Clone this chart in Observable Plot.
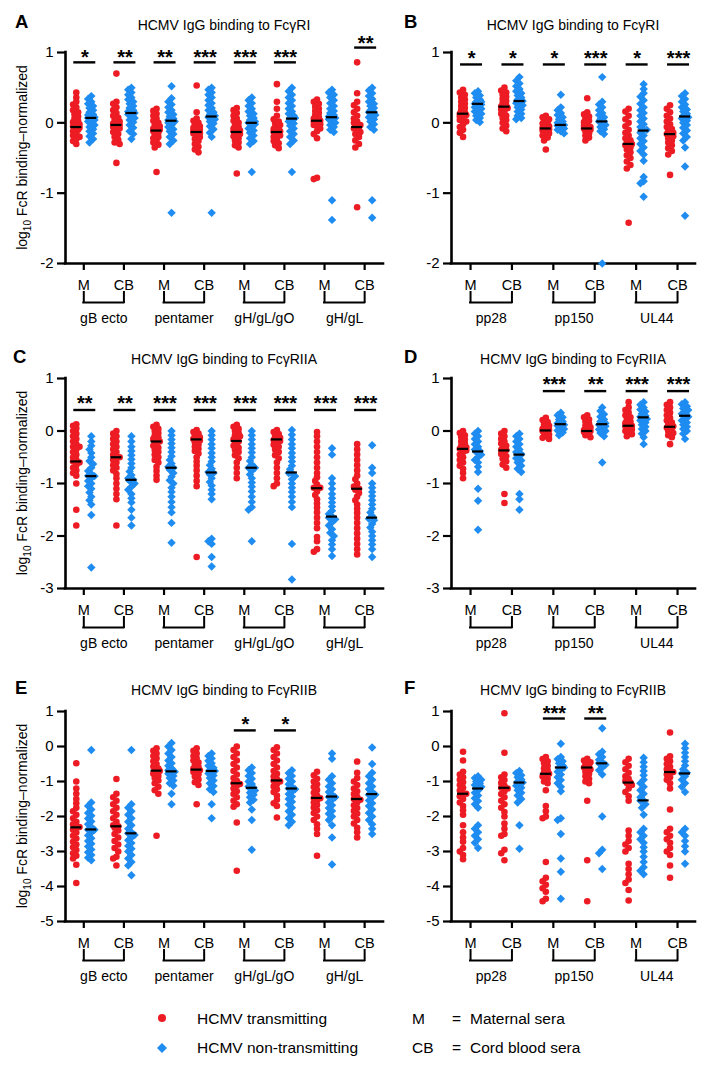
<!DOCTYPE html>
<html><head><meta charset="utf-8">
<script src="https://cdn.jsdelivr.net/npm/d3@7"></script>
<script src="https://cdn.jsdelivr.net/npm/@observablehq/plot@0.6"></script>
<style>
body{margin:0;background:#fff;}
#root{position:relative;width:722px;height:1078px;overflow:hidden;background:#fff;font-family:"Liberation Sans",Arial,sans-serif;}
#root > svg, #root > div{position:absolute;}
</style></head><body><div id="root"></div>
<script>
// ---------------- DATA ----------------
const antigensGlyco = ["gB ecto", "pentamer", "gH/gL/gO", "gH/gL"];
const antigensOther = ["pp28", "pp150", "UL44"];
const seraLabels = ["M", "CB"];
const yTicksRI = [-2, -1, 0, 1];
const yTicksRIIA = [-3, -2, -1, 0, 1];
const yTicksRIIB = [-5, -4, -3, -2, -1, 0, 1];
const panelTitles = ["HCMV IgG binding to FcγRI", "HCMV IgG binding to FcγRI", "HCMV IgG binding to FcγRIIA", "HCMV IgG binding to FcγRIIA", "HCMV IgG binding to FcγRIIB", "HCMV IgG binding to FcγRIIB"];

// Panel A (FcγRI, glycoproteins) columns: gB M, gB CB, pent M, pent CB, gHgLgO M, CB, gHgL M, CB
const aTransmitting = [
  [0.43,0.36,0.3,0.26,0.22,0.18,0.15,0.12,0.09,0.06,0.03,0.0,-0.02,-0.05,-0.07,-0.1,-0.12,-0.15,-0.18,-0.2,-0.23,-0.26,-0.3,-0.05,0.01,-0.09],
  [0.7,0.3,0.27,0.22,0.18,0.14,0.1,0.07,0.04,0.02,-0.01,-0.03,-0.05,-0.08,-0.1,-0.13,-0.16,-0.2,-0.24,-0.28,-0.3,-0.57,0.0,-0.06],
  [0.2,0.17,0.13,0.1,0.06,0.03,0.0,-0.03,-0.06,-0.08,-0.1,-0.12,-0.14,-0.17,-0.2,-0.22,-0.25,-0.28,-0.31,-0.35,-0.7,-0.1,-0.05],
  [0.53,0.15,0.06,0.03,0.0,-0.02,-0.05,-0.08,-0.1,-0.12,-0.14,-0.17,-0.2,-0.23,-0.26,-0.3,-0.34,-0.38,-0.42,-0.11,-0.15,-0.07],
  [0.21,0.18,0.14,0.1,0.06,0.03,0.0,-0.03,-0.06,-0.08,-0.1,-0.12,-0.14,-0.16,-0.19,-0.22,-0.25,-0.28,-0.32,-0.35,-0.72,-0.11],
  [0.55,0.3,0.2,0.1,0.05,0.02,0.0,-0.03,-0.06,-0.09,-0.11,-0.13,-0.15,-0.18,-0.2,-0.23,-0.26,-0.29,-0.32,-0.36,-0.12,-0.08],
  [0.33,0.3,0.27,0.23,0.2,0.17,0.14,0.11,0.08,0.06,0.04,0.02,0.0,-0.02,-0.05,-0.08,-0.12,-0.16,-0.22,-0.78,-0.8,0.03,-0.03],
  [0.86,0.42,0.3,0.25,0.2,0.15,0.1,0.06,0.02,0.0,-0.03,-0.05,-0.08,-0.1,-0.13,-0.16,-0.2,-0.25,-0.3,-0.35,-1.2,-0.06]
];
const aNonTransmitting = [
  [0.38,0.34,0.3,0.27,0.24,0.21,0.18,0.15,0.12,0.1,0.08,0.06,0.04,0.02,0.0,-0.03,-0.06,-0.09,-0.12,-0.15,-0.19,-0.23,-0.28,0.07,0.11],
  [0.5,0.47,0.43,0.4,0.36,0.33,0.3,0.27,0.24,0.21,0.18,0.16,0.14,0.12,0.1,0.07,0.04,0.01,-0.03,-0.07,-0.12,-0.16,-0.23,0.15],
  [0.52,0.35,0.3,0.26,0.22,0.18,0.15,0.12,0.09,0.06,0.04,0.02,0.0,-0.03,-0.06,-0.09,-0.12,-0.16,-0.2,-0.25,-0.3,-1.28,0.03],
  [0.5,0.47,0.43,0.4,0.36,0.32,0.28,0.25,0.21,0.18,0.15,0.12,0.1,0.08,0.05,0.02,-0.01,-0.05,-0.09,-0.14,-0.2,-1.28,0.08],
  [0.36,0.32,0.28,0.24,0.2,0.16,0.13,0.1,0.07,0.04,0.02,0.0,-0.02,-0.05,-0.08,-0.11,-0.14,-0.18,-0.22,-0.26,-0.3,-0.7,0.01],
  [0.5,0.45,0.4,0.36,0.32,0.28,0.24,0.2,0.16,0.13,0.1,0.07,0.05,0.02,-0.01,-0.04,-0.08,-0.12,-0.16,-0.2,-0.25,-0.3,-0.7,0.07],
  [0.47,0.43,0.4,0.36,0.32,0.28,0.24,0.2,0.17,0.14,0.11,0.09,0.07,0.05,0.03,0.0,-0.03,-0.06,-0.1,-0.13,-1.1,-1.38,0.08],
  [0.5,0.46,0.42,0.38,0.34,0.3,0.27,0.24,0.21,0.18,0.15,0.13,0.11,0.08,0.05,0.02,-0.02,-0.06,-0.1,-1.1,-1.35,0.15]
];
const aMedianT = [-0.06, -0.03, -0.11, -0.13, -0.13, -0.13, 0.03, -0.06];
const aMedianN = [0.07, 0.14, 0.03, 0.09, 0.0, 0.06, 0.08, 0.15];
const aStars = ["*", "**", "**", "***", "***", "***", "", "**"];
const aBarY = [0.86, 0.86, 0.86, 0.86, 0.86, 0.86, 0, 1.07];
const aStarY = [1.0, 1.0, 1.0, 1.0, 1.0, 1.0, 0, 1.2];

// Panel B (FcγRI, pp28 / pp150 / UL44)
const bTransmitting = [
  [0.47,0.43,0.4,0.36,0.33,0.3,0.27,0.24,0.21,0.18,0.15,0.13,0.11,0.09,0.06,0.04,0.02,-0.02,-0.06,-0.1,-0.14,-0.2,0.12],
  [0.5,0.46,0.43,0.4,0.37,0.34,0.31,0.28,0.25,0.23,0.21,0.19,0.16,0.13,0.1,0.07,0.04,0.0,-0.04,-0.08,-0.12,0.22],
  [0.1,0.08,0.05,0.03,0.01,-0.01,-0.03,-0.05,-0.07,-0.09,-0.11,-0.13,-0.15,-0.18,-0.21,-0.25,-0.38,-0.08],
  [0.35,0.15,0.12,0.09,0.06,0.03,0.01,-0.02,-0.04,-0.06,-0.08,-0.1,-0.12,-0.15,-0.18,-0.21,-0.25,-0.08],
  [0.2,0.16,0.1,0.05,0.0,-0.05,-0.1,-0.14,-0.18,-0.22,-0.25,-0.28,-0.3,-0.32,-0.35,-0.38,-0.42,-0.46,-0.5,-0.55,-0.6,-0.65,-1.42,-0.3],
  [0.25,0.2,0.15,0.1,0.06,0.02,-0.02,-0.06,-0.09,-0.12,-0.14,-0.16,-0.19,-0.22,-0.25,-0.28,-0.32,-0.36,-0.4,-0.45,-0.74,-0.15]
];
const bNonTransmitting = [
  [0.45,0.42,0.39,0.36,0.33,0.3,0.28,0.26,0.24,0.22,0.2,0.18,0.16,0.13,0.1,0.07,0.04,0.01,0.27,0.3],
  [0.65,0.6,0.56,0.52,0.48,0.45,0.42,0.39,0.36,0.33,0.3,0.28,0.25,0.22,0.19,0.16,0.13,0.1,0.07,0.05,0.31],
  [0.4,0.22,0.18,0.14,0.11,0.08,0.05,0.02,0.0,-0.02,-0.04,-0.06,-0.08,-0.1,-0.12,-0.15,-0.03],
  [0.65,0.3,0.26,0.22,0.18,0.14,0.11,0.08,0.05,0.02,0.0,-0.03,-0.06,-0.09,-0.12,-0.16,-2.0,0.02],
  [0.55,0.48,0.42,0.37,0.32,0.27,0.22,0.18,0.14,0.1,0.06,0.02,-0.02,-0.06,-0.1,-0.14,-0.18,-0.22,-0.26,-0.3,-0.35,-0.4,-0.45,-0.54,-0.77,-0.83,-0.86,-1.05,-0.1],
  [0.42,0.38,0.34,0.3,0.26,0.22,0.19,0.16,0.13,0.1,0.08,0.06,0.03,0.0,-0.03,-0.07,-0.11,-0.15,-0.2,-0.25,-0.35,-0.62,-1.32,0.08]
];
const bMedianT = [0.13, 0.23, -0.08, -0.08, -0.3, -0.16];
const bMedianN = [0.27, 0.31, -0.03, 0.02, -0.11, 0.09];
const bStars = ["*", "*", "*", "***", "*", "***"];
const bBarY = [0.83, 0.83, 0.83, 0.83, 0.83, 0.83];
const bStarY = [0.99, 0.99, 0.99, 0.99, 0.99, 0.99];

// Panel C (FcγRIIA, glycoproteins)
const cTransmitting = [
  [0.13,0.1,0.05,0.0,-0.05,-0.1,-0.15,-0.2,-0.25,-0.3,-0.35,-0.4,-0.45,-0.5,-0.55,-0.6,-0.65,-0.7,-0.75,-0.8,-0.85,-1.0,-1.5,-1.8,-0.58,-0.3],
  [0.0,-0.05,-0.1,-0.15,-0.2,-0.25,-0.3,-0.35,-0.4,-0.45,-0.5,-0.55,-0.6,-0.65,-0.7,-0.75,-0.82,-0.9,-1.0,-1.1,-1.2,-1.3,-1.8,-0.5],
  [0.12,0.08,0.04,0.0,-0.04,-0.08,-0.12,-0.16,-0.2,-0.24,-0.28,-0.32,-0.36,-0.4,-0.45,-0.5,-0.55,-0.6,-0.68,-0.76,-0.85,-0.93,-0.2,-0.15],
  [0.02,-0.02,-0.05,-0.09,-0.12,-0.15,-0.18,-0.22,-0.26,-0.3,-0.34,-0.38,-0.43,-0.5,-0.58,-0.66,-0.75,-0.85,-0.95,-1.05,-2.4,-0.15],
  [0.12,0.08,0.04,0.0,-0.04,-0.08,-0.12,-0.16,-0.2,-0.24,-0.28,-0.32,-0.36,-0.4,-0.46,-0.52,-0.6,-0.7,-0.8,-0.9,-0.2,-0.1],
  [0.02,-0.02,-0.06,-0.1,-0.13,-0.16,-0.19,-0.22,-0.26,-0.3,-0.35,-0.4,-0.46,-0.52,-0.6,-0.7,-0.8,-0.9,-1.0,-1.05,-0.17],
  [-0.02,-0.1,-0.2,-0.3,-0.4,-0.5,-0.6,-0.7,-0.8,-0.88,-0.95,-1.02,-1.08,-1.15,-1.22,-1.3,-1.38,-1.46,-1.55,-1.65,-1.75,-1.85,-2.02,-2.1,-2.25,-2.3,-1.08],
  [-0.25,-0.35,-0.45,-0.55,-0.65,-0.75,-0.85,-0.92,-1.0,-1.06,-1.12,-1.18,-1.25,-1.32,-1.4,-1.48,-1.56,-1.65,-1.75,-1.85,-1.95,-2.05,-2.15,-2.25,-2.35,-1.1]
];
const cNonTransmitting = [
  [-0.1,-0.2,-0.28,-0.35,-0.42,-0.5,-0.57,-0.63,-0.7,-0.76,-0.82,-0.86,-0.9,-0.95,-1.0,-1.05,-1.1,-1.17,-1.25,-1.32,-1.4,-1.6,-2.6,-0.85],
  [-0.1,-0.2,-0.3,-0.38,-0.46,-0.54,-0.62,-0.7,-0.77,-0.84,-0.9,-0.95,-1.0,-1.06,-1.12,-1.2,-1.28,-1.36,-1.5,-1.65,-1.8,-0.93],
  [0.0,-0.08,-0.16,-0.24,-0.32,-0.4,-0.48,-0.55,-0.62,-0.68,-0.74,-0.8,-0.87,-0.94,-1.0,-1.08,-1.16,-1.25,-1.35,-1.45,-1.55,-1.75,-2.13,-0.7],
  [0.0,-0.08,-0.16,-0.25,-0.33,-0.42,-0.5,-0.58,-0.65,-0.72,-0.78,-0.83,-0.9,-0.97,-1.04,-1.12,-1.2,-1.3,-2.05,-2.1,-2.15,-2.4,-2.58,-0.8],
  [0.0,-0.08,-0.16,-0.25,-0.33,-0.41,-0.5,-0.57,-0.64,-0.7,-0.76,-0.83,-0.9,-0.98,-1.06,-1.15,-1.25,-1.35,-1.45,-1.5,-2.1,-0.7],
  [0.02,-0.07,-0.16,-0.25,-0.33,-0.42,-0.5,-0.58,-0.66,-0.73,-0.8,-0.86,-0.92,-1.0,-1.08,-1.16,-1.25,-1.35,-1.45,-2.15,-2.83,-0.8],
  [-0.33,-0.45,-0.9,-1.0,-1.1,-1.2,-1.28,-1.36,-1.44,-1.52,-1.58,-1.63,-1.68,-1.74,-1.8,-1.87,-1.94,-2.0,-2.08,-2.16,-2.25,-2.38,-1.65],
  [-0.27,-0.7,-0.8,-1.0,-1.08,-1.16,-1.24,-1.32,-1.4,-1.48,-1.55,-1.62,-1.7,-1.77,-1.84,-1.92,-2.0,-2.08,-2.16,-2.25,-2.4,-1.67]
];
const cMedianT = [-0.58, -0.5, -0.2, -0.16, -0.19, -0.16, -1.09, -1.1];
const cMedianN = [-0.86, -0.93, -0.7, -0.79, -0.7, -0.79, -1.63, -1.65];
const cStars = ["**", "**", "***", "***", "***", "***", "***", "***"];
const cBarY = [0.4, 0.4, 0.4, 0.4, 0.4, 0.4, 0.4, 0.4];
const cStarY = [0.61, 0.61, 0.61, 0.61, 0.61, 0.61, 0.61, 0.61];

// Panel D (FcγRIIA, pp28 / pp150 / UL44)
const dTransmitting = [
  [0.0,-0.04,-0.08,-0.12,-0.16,-0.2,-0.24,-0.28,-0.31,-0.34,-0.37,-0.4,-0.45,-0.5,-0.55,-0.6,-0.66,-0.72,-0.8,-0.9,-0.33],
  [0.0,-0.05,-0.1,-0.15,-0.2,-0.24,-0.28,-0.32,-0.36,-0.4,-0.44,-0.48,-0.53,-0.58,-0.64,-0.7,-1.2,-1.37,-0.36],
  [0.25,0.21,0.17,0.13,0.1,0.07,0.04,0.02,0.0,-0.02,-0.04,-0.07,-0.1,-0.13,-0.15,0.01],
  [0.3,0.26,0.22,0.18,0.14,0.1,0.07,0.04,0.02,0.0,-0.02,-0.05,-0.08,-0.12,0.0],
  [0.55,0.45,0.4,0.35,0.3,0.26,0.22,0.18,0.15,0.12,0.09,0.06,0.03,0.0,-0.03,-0.06,-0.1,0.1],
  [0.55,0.5,0.45,0.4,0.35,0.3,0.25,0.2,0.16,0.12,0.09,0.06,0.03,0.0,-0.04,-0.08,-0.12,-0.25,0.09]
];
const dNonTransmitting = [
  [0.0,-0.05,-0.1,-0.15,-0.2,-0.25,-0.3,-0.35,-0.4,-0.45,-0.5,-0.55,-0.6,-0.68,-0.78,-1.1,-1.33,-1.88,-0.38],
  [-0.05,-0.1,-0.15,-0.2,-0.25,-0.3,-0.35,-0.4,-0.44,-0.48,-0.52,-0.56,-0.6,-0.66,-0.72,-0.78,-1.2,-1.3,-1.5,-0.44],
  [0.35,0.3,0.26,0.22,0.18,0.15,0.12,0.1,0.07,0.04,0.01,-0.03,-0.08,0.13],
  [0.45,0.38,0.32,0.27,0.22,0.18,0.15,0.12,0.09,0.06,0.03,0.0,-0.04,-0.1,-0.6,0.13],
  [0.55,0.5,0.45,0.41,0.37,0.33,0.29,0.26,0.23,0.2,0.16,0.12,0.08,0.04,0.0,-0.05,-0.12,-0.25,0.27],
  [0.55,0.51,0.47,0.43,0.4,0.37,0.33,0.3,0.27,0.24,0.2,0.16,0.12,0.08,0.04,0.0,-0.05,-0.15,0.29]
];
const dMedianT = [-0.34, -0.37, 0.01, 0.0, 0.1, 0.08];
const dMedianN = [-0.39, -0.45, 0.13, 0.13, 0.26, 0.29];
const dStars = ["", "", "***", "**", "***", "***"];
const dBarY = [0, 0, 0.76, 0.76, 0.76, 0.76];
const dStarY = [0, 0, 0.97, 0.97, 0.97, 0.97];

// Panel E (FcγRIIB, glycoproteins)
const eTransmitting = [
  [-0.48,-1.0,-1.2,-1.35,-1.5,-1.62,-1.75,-1.85,-1.95,-2.05,-2.15,-2.22,-2.3,-2.38,-2.46,-2.55,-2.63,-2.72,-2.8,-2.88,-2.96,-3.05,-3.12,-3.2,-3.38,-3.9,-2.3],
  [-0.93,-1.35,-1.45,-1.55,-1.65,-1.75,-1.85,-1.95,-2.05,-2.15,-2.25,-2.32,-2.4,-2.5,-2.6,-2.7,-2.8,-2.9,-3.0,-3.15,-3.2,-3.4,-2.28],
  [-0.05,-0.12,-0.2,-0.27,-0.34,-0.42,-0.5,-0.57,-0.63,-0.68,-0.73,-0.78,-0.84,-0.9,-0.97,-1.05,-1.15,-1.25,-1.35,-2.55,-0.7],
  [-0.05,-0.12,-0.2,-0.27,-0.34,-0.4,-0.46,-0.52,-0.58,-0.63,-0.68,-0.73,-0.79,-0.86,-0.94,-1.02,-1.1,-1.65,-0.67],
  [0.0,-0.1,-0.2,-0.3,-0.4,-0.5,-0.6,-0.7,-0.8,-0.9,-0.98,-1.05,-1.12,-1.2,-1.28,-1.36,-1.45,-1.55,-1.65,-1.72,-2.17,-3.55,-1.07],
  [-0.02,-0.1,-0.2,-0.3,-0.4,-0.5,-0.6,-0.7,-0.78,-0.86,-0.93,-1.0,-1.07,-1.14,-1.22,-1.3,-1.4,-1.52,-1.62,-1.7,-2.03,-0.98],
  [-0.72,-0.82,-0.92,-1.0,-1.08,-1.16,-1.24,-1.32,-1.4,-1.47,-1.54,-1.6,-1.67,-1.74,-1.82,-1.9,-2.0,-2.1,-2.22,-2.35,-2.5,-3.12,-1.48],
  [-0.43,-0.75,-0.9,-1.0,-1.1,-1.2,-1.28,-1.36,-1.44,-1.52,-1.6,-1.68,-1.76,-1.84,-1.92,-2.0,-2.1,-2.2,-2.32,-2.45,-2.6,-1.5]
];
const eNonTransmitting = [
  [-0.1,-1.6,-1.7,-1.8,-1.9,-1.98,-2.06,-2.14,-2.22,-2.3,-2.38,-2.46,-2.54,-2.62,-2.7,-2.78,-2.86,-2.94,-3.02,-3.1,-3.18,-3.25,-2.38],
  [-0.1,-1.65,-1.75,-1.85,-1.95,-2.05,-2.15,-2.25,-2.35,-2.45,-2.53,-2.6,-2.68,-2.76,-2.84,-2.92,-3.0,-3.1,-3.2,-3.3,-3.4,-3.68,-2.48],
  [0.1,0.0,-0.1,-0.2,-0.3,-0.4,-0.48,-0.55,-0.62,-0.68,-0.73,-0.78,-0.84,-0.9,-0.97,-1.05,-1.12,-1.35,-1.65,-0.72],
  [-0.2,-0.27,-0.34,-0.41,-0.48,-0.55,-0.61,-0.67,-0.72,-0.77,-0.83,-0.9,-0.97,-1.05,-1.13,-1.22,-1.3,-1.65,-2.05,-0.7],
  [-0.6,-0.68,-0.76,-0.84,-0.92,-1.0,-1.07,-1.14,-1.2,-1.26,-1.32,-1.38,-1.45,-1.52,-1.6,-1.8,-2.1,-2.95,-1.18],
  [-0.68,-0.76,-0.84,-0.92,-1.0,-1.08,-1.15,-1.22,-1.29,-1.36,-1.43,-1.5,-1.58,-1.66,-1.75,-1.85,-1.95,-2.05,-2.15,-2.25,-1.2],
  [-0.2,-0.35,-0.85,-0.95,-1.05,-1.14,-1.22,-1.3,-1.38,-1.45,-1.52,-1.6,-1.68,-1.76,-1.84,-1.92,-2.0,-2.1,-2.25,-2.6,-3.37,-1.44],
  [-0.03,-0.5,-0.75,-0.85,-0.95,-1.05,-1.14,-1.22,-1.3,-1.38,-1.46,-1.54,-1.62,-1.7,-1.8,-1.9,-2.0,-2.1,-2.22,-2.35,-2.5,-1.38]
];
const eMedianT = [-2.31, -2.28, -0.69, -0.66, -1.05, -0.97, -1.47, -1.5];
const eMedianN = [-2.37, -2.48, -0.71, -0.7, -1.18, -1.2, -1.43, -1.36];
const eStars = ["", "", "", "", "*", "*", "", ""];
const eBarY = [0, 0, 0, 0, 0.46, 0.46, 0, 0];
const eStarY = [0, 0, 0, 0, 0.77, 0.77, 0, 0];

// Panel F (FcγRIIB, pp28 / pp150 / UL44)
const fTransmitting = [
  [-0.15,-0.4,-0.72,-0.8,-0.88,-0.95,-1.02,-1.1,-1.18,-1.26,-1.34,-1.42,-1.5,-1.6,-1.7,-1.82,-1.95,-2.25,-2.45,-2.6,-2.72,-2.9,-3.0,-3.1,-3.22,-1.35],
  [0.95,-0.18,-0.8,-0.88,-0.96,-1.04,-1.12,-1.2,-1.28,-1.36,-1.45,-1.55,-1.65,-1.75,-1.87,-2.0,-2.2,-2.35,-2.5,-2.55,-2.95,-3.05,-3.25,-1.18],
  [-0.3,-0.36,-0.42,-0.48,-0.55,-0.62,-0.68,-0.74,-0.8,-0.86,-0.92,-1.0,-1.05,-1.25,-1.7,-1.85,-2.0,-2.05,-3.3,-3.75,-3.85,-3.95,-4.05,-4.15,-4.35,-4.42,-0.78],
  [-0.35,-0.4,-0.45,-0.5,-0.55,-0.6,-0.66,-0.72,-0.78,-0.85,-0.92,-1.0,-1.05,-1.55,-3.25,-4.42,-0.6],
  [-0.35,-0.45,-0.55,-0.65,-0.75,-0.85,-0.92,-0.98,-1.04,-1.1,-1.2,-1.3,-1.42,-1.55,-2.4,-2.55,-2.7,-2.8,-2.9,-3.0,-3.35,-3.5,-3.65,-3.8,-3.9,-4.1,-4.4,-1.03],
  [0.4,-0.28,-0.35,-0.42,-0.5,-0.58,-0.65,-0.72,-0.8,-0.88,-0.95,-1.05,-1.2,-1.8,-2.35,-2.45,-2.55,-2.65,-2.75,-2.9,-3.0,-3.1,-3.4,-3.75,-0.73]
];
const fNonTransmitting = [
  [-0.85,-0.9,-0.95,-1.0,-1.05,-1.1,-1.15,-1.2,-1.26,-1.32,-1.4,-1.48,-1.56,-1.65,-1.75,-2.25,-2.35,-2.45,-2.55,-2.65,-2.75,-2.9,-1.2],
  [-0.7,-0.76,-0.82,-0.88,-0.94,-1.0,-1.06,-1.12,-1.18,-1.25,-1.32,-1.4,-1.5,-1.6,-2.25,-2.92,-1.03],
  [0.08,-0.3,-0.36,-0.42,-0.48,-0.54,-0.6,-0.66,-0.72,-0.8,-0.88,-0.96,-1.05,-1.15,-1.28,-2.05,-2.1,-2.5,-3.2,-3.58,-4.35,-0.6],
  [0.52,-0.15,-0.22,-0.3,-0.38,-0.45,-0.52,-0.6,-0.68,-0.8,-2.0,-2.95,-3.05,-3.5,-0.48],
  [-0.32,-0.45,-0.58,-0.7,-0.82,-0.95,-1.05,-1.15,-1.25,-1.35,-1.45,-1.55,-1.65,-1.75,-1.95,-2.35,-2.45,-2.55,-2.65,-2.75,-2.88,-3.0,-3.15,-3.3,-3.45,-3.55,-3.65,-1.54],
  [0.08,-0.05,-0.18,-0.3,-0.42,-0.54,-0.65,-0.75,-0.85,-0.95,-1.05,-1.15,-1.3,-2.35,-2.45,-2.55,-2.7,-2.85,-3.0,-3.35,-0.77]
];
const fMedianT = [-1.35, -1.18, -0.78, -0.6, -1.03, -0.73];
const fMedianN = [-1.2, -1.03, -0.6, -0.48, -1.54, -0.77];
const fStars = ["", "", "***", "**", "", ""];
const fBarY = [0, 0, 0.8, 0.8, 0, 0];
const fStarY = [0, 0, 1.09, 1.09, 0, 0];

const legendSeries = ["HCMV transmitting", "HCMV non-transmitting"];
const legendSera = [["M", "Maternal sera"], ["CB", "Cord blood sera"]];

// ---------------- RENDER ----------------
const RED = "#ed1c24", BLUE = "#1e8cf0";
const FONT = "Arial, 'Liberation Sans', Helvetica, sans-serif";
const root = document.getElementById("root");

function swarm(vals, ppu) {
  const order = d3.range(vals.length).sort((a, b) => d3.descending(vals[a], vals[b]));
  const cands = [0, -1.8, 1.8, -3.2, 3.2];
  const placed = [], off = new Array(vals.length).fill(0);
  for (const i of order) {
    const y = -vals[i] * ppu;
    let best = 0, bestD = -Infinity;
    for (const c of cands) {
      let d = Infinity;
      for (const p of placed) if (Math.abs(p.y - y) < 6) d = Math.min(d, Math.hypot(p.x - c, p.y - y));
      if (d >= 4) { best = c; break; }
      if (d > bestD) { bestD = d; best = c; }
    }
    off[i] = best; placed.push({x: best, y});
  }
  return off;
}

function panel(cfg) {
  const {left, top, width, height, ml, mr, mt, mb, xdom, ydom, yticks, antigens, red, blue, medT, medN, stars, barY, starY} = cfg;
  const nSlots = antigens.length * 2;
  const slots = d3.range(nSlots);
  const ppx = (width - ml - mr) / (xdom[1] - xdom[0]);
  const ppu = (height - mt - mb) / (ydom[1] - ydom[0]);
  const SIDE = 7.5;
  const pts = [];
  slots.forEach(s => {
    [["T", red[s], -SIDE], ["N", blue[s], SIDE]].forEach(([series, vals, side]) => {
      const off = swarm(vals, ppu);
      vals.forEach((v, i) => pts.push({series, v, x: s + (side + off[i]) / ppx}));
    });
  });
  const meds = [];
  slots.forEach(s => {
    meds.push({y: medT[s], x1: s + (-SIDE - 5.5) / ppx, x2: s + (-SIDE + 5.5) / ppx});
    meds.push({y: medN[s], x1: s + (SIDE - 5.5) / ppx, x2: s + (SIDE + 5.5) / ppx});
  });
  const sigs = slots.filter(s => stars[s]).map(s => ({s: s + 1 / ppx, t: stars[s], x1: s + (1 - 11) / ppx, x2: s + (1 + 11) / ppx, y: barY[s], ys: starY[s]}));
  const ymin = ydom[0];
  const yb1 = ymin - 29 / ppu, yb2 = ymin - 39 / ppu, yg = ymin - 55 / ppu;
  const pairs = antigens.map((a, k) => ({a, m: 2 * k, c: 2 * k + 1}));

  const marks = [
    Plot.ruleX([xdom[0]], {y1: ydom[0], y2: ydom[1], stroke: "black", strokeWidth: 2.6, strokeLinecap: "square"}),
    Plot.ruleY([ydom[0]], {x1: xdom[0], x2: xdom[1], stroke: "black", strokeWidth: 2.6, strokeLinecap: "square"}),
    Plot.dot(pts.filter(d => d.series === "T"), {x: "x", y: "v", r: 3.3, fill: RED, stroke: "none", symbol: "circle"}),
    Plot.dot(pts.filter(d => d.series === "N"), {x: "x", y: "v", r: 3.8, fill: BLUE, stroke: "none", symbol: "diamond2"}),
    Plot.ruleY(meds, {x1: "x1", x2: "x2", y: "y", stroke: "black", strokeWidth: 2.2}),
    Plot.ruleY(sigs, {x1: "x1", x2: "x2", y: "y", stroke: "black", strokeWidth: 2.4}),
    Plot.text(sigs, {x: "s", y: "ys", text: "t", fontSize: 20, fontWeight: "bold", dy: 5, fill: "black"}),
    Plot.ruleX(slots, {x: d => d, y1: yb1, y2: yb2, stroke: "black", strokeWidth: 2, strokeLinecap: "square"}),
    Plot.ruleY(pairs, {x1: "m", x2: "c", y: yb2, stroke: "black", strokeWidth: 2, strokeLinecap: "square"}),
    Plot.text(pairs, {x: d => d.m + 0.5, y: yg, text: "a", fontSize: 14, fill: "black"})
  ];
  const useAxisMarks = typeof Plot.axisX === "function";
  if (useAxisMarks) {
    marks.push(Plot.axisY(yticks, {tickSize: 8, tickPadding: 4, tickFormat: d => String(d), fontSize: 15, strokeWidth: 2.2, label: null}));
    marks.push(Plot.axisX(slots, {tickSize: 7, tickPadding: 9, tickFormat: i => seraLabels[i % 2], fontSize: 14.5, strokeWidth: 2.2, label: null}));
  }
  const svg = Plot.plot({
    width, height, marginLeft: ml, marginRight: mr, marginTop: mt, marginBottom: mb,
    x: Object.assign({domain: xdom}, useAxisMarks ? {} : {ticks: slots, tickFormat: i => seraLabels[i % 2], tickSize: 7, tickPadding: 9, label: null}),
    y: Object.assign({domain: ydom}, useAxisMarks ? {} : {ticks: yticks, tickFormat: d => String(d), tickSize: 8, tickPadding: 4, label: null}),
    style: {fontFamily: FONT, fontSize: "14px", background: "none", overflow: "visible", color: "black"},
    marks
  });
  svg.style.left = left + "px";
  svg.style.top = top + "px";
  root.appendChild(svg);
}

const L = {left: 0, width: 385, ml: 65, mr: 2, xdom: [-0.456, 7.47]};
const R = {left: 385, width: 337, ml: 66, mr: 27, xdom: [-0.46, 5.434]};
const row1 = {top: 28, height: 305, mt: 24, mb: 70};
const row2 = {top: 366, height: 292, mt: 12, mb: 70};
const row3 = {top: 698, height: 293, mt: 13, mb: 70};

panel({...L, ...row1, ydom: [-2, 1], yticks: yTicksRI, antigens: antigensGlyco, red: aTransmitting, blue: aNonTransmitting, medT: aMedianT, medN: aMedianN, stars: aStars, barY: aBarY, starY: aStarY});
panel({...R, ...row1, ydom: [-2, 1], yticks: yTicksRI, antigens: antigensOther, red: bTransmitting, blue: bNonTransmitting, medT: bMedianT, medN: bMedianN, stars: bStars, barY: bBarY, starY: bStarY});
panel({...L, ...row2, ydom: [-3, 1], yticks: yTicksRIIA, antigens: antigensGlyco, red: cTransmitting, blue: cNonTransmitting, medT: cMedianT, medN: cMedianN, stars: cStars, barY: cBarY, starY: cStarY});
panel({...R, ...row2, ydom: [-3, 1], yticks: yTicksRIIA, antigens: antigensOther, red: dTransmitting, blue: dNonTransmitting, medT: dMedianT, medN: dMedianN, stars: dStars, barY: dBarY, starY: dStarY});
panel({...L, ...row3, ydom: [-5, 1], yticks: yTicksRIIB, antigens: antigensGlyco, red: eTransmitting, blue: eNonTransmitting, medT: eMedianT, medN: eMedianN, stars: eStars, barY: eBarY, starY: eStarY});
panel({...R, ...row3, ydom: [-5, 1], yticks: yTicksRIIB, antigens: antigensOther, red: fTransmitting, blue: fNonTransmitting, medT: fMedianT, medN: fMedianN, stars: fStars, barY: fBarY, starY: fStarY});

// Overlay: panel letters, titles, y labels, legend
const ov = d3.select(root).append("svg").attr("width", 722).attr("height", 1078)
  .style("left", "0px").style("top", "0px").style("pointer-events", "none")
  .attr("font-family", FONT);
const letters = [["A", 15, 28], ["B", 404, 28], ["C", 13, 363], ["D", 404, 363], ["E", 15, 694], ["F", 404, 694]];
letters.forEach(([t, x, y]) => ov.append("text").attr("x", x).attr("y", y).attr("font-size", 18.5).attr("font-weight", "bold").text(t));
const titlePos = [[224, 30], [573, 30], [224, 364], [573, 364], [224, 695], [573, 695]];
titlePos.forEach(([x, y], i) => ov.append("text").attr("x", x).attr("y", y).attr("font-size", 14).attr("text-anchor", "middle").text(panelTitles[i]));
[157.5, 483, 816].forEach(cy => {
  const t = ov.append("text").attr("transform", `translate(27,${cy}) rotate(-90)`).attr("text-anchor", "middle").attr("font-size", 14);
  t.append("tspan").text("log");
  t.append("tspan").attr("font-size", 10).attr("dy", 4).text("10");
  t.append("tspan").attr("dy", -4).text(" FcR binding–normalized");
});
// legend
ov.append("circle").attr("cx", 162).attr("cy", 1018).attr("r", 4).attr("fill", RED);
ov.append("path").attr("d", "M162,1043L167,1048L162,1053L157,1048Z").attr("fill", BLUE);
ov.append("text").attr("x", 197).attr("y", 1024).attr("font-size", 15.5).text(legendSeries[0]);
ov.append("text").attr("x", 197).attr("y", 1053).attr("font-size", 15.5).text(legendSeries[1]);
legendSera.forEach(([k, v], i) => {
  const y = 1024 + i * 29;
  ov.append("text").attr("x", 412).attr("y", y).attr("font-size", 15.5).text(k);
  ov.append("text").attr("x", 452).attr("y", y).attr("font-size", 15.5).text("=");
  ov.append("text").attr("x", 470).attr("y", y).attr("font-size", 15.5).text(v);
});
</script></body></html>
